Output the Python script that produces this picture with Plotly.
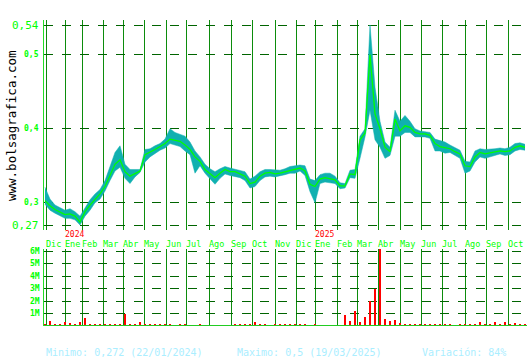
import plotly.graph_objects as go

# ---- data (x = trading session number) ----
sessions = list(range(0, 481, 5))
close = [0.303, 0.296, 0.291, 0.288, 0.284, 0.285, 0.282, 0.274, 0.288, 0.297,
         0.305, 0.312, 0.322, 0.338, 0.352, 0.358, 0.342, 0.336, 0.340, 0.343,
         0.365, 0.368, 0.372, 0.376, 0.380, 0.386, 0.385, 0.383, 0.378, 0.372,
         0.362, 0.356, 0.345, 0.340, 0.334, 0.340, 0.345, 0.342, 0.342, 0.339,
         0.336, 0.326, 0.328, 0.336, 0.340, 0.341, 0.339, 0.340, 0.342, 0.344,
         0.345, 0.347, 0.343, 0.325, 0.322, 0.332, 0.334, 0.333, 0.331, 0.323,
         0.323, 0.339, 0.338, 0.385, 0.394, 0.500, 0.420, 0.400, 0.375, 0.369,
         0.413, 0.397, 0.404, 0.402, 0.395, 0.393, 0.393, 0.391, 0.380, 0.376,
         0.374, 0.373, 0.369, 0.366, 0.350, 0.349, 0.362, 0.368, 0.366, 0.367,
         0.368, 0.370, 0.369, 0.370, 0.375, 0.377, 0.375]
high = [0.321, 0.305, 0.297, 0.294, 0.290, 0.292, 0.288, 0.282, 0.294, 0.304,
        0.312, 0.318, 0.330, 0.350, 0.368, 0.377, 0.352, 0.345, 0.345, 0.345,
        0.372, 0.373, 0.377, 0.380, 0.386, 0.400, 0.395, 0.392, 0.390, 0.382,
        0.370, 0.362, 0.352, 0.346, 0.342, 0.346, 0.349, 0.347, 0.345, 0.343,
        0.342, 0.332, 0.336, 0.342, 0.345, 0.345, 0.344, 0.344, 0.346, 0.349,
        0.350, 0.351, 0.350, 0.332, 0.330, 0.338, 0.340, 0.340, 0.336, 0.327,
        0.326, 0.344, 0.345, 0.390, 0.400, 0.540, 0.456, 0.410, 0.382, 0.375,
        0.425, 0.410, 0.418, 0.410, 0.400, 0.397, 0.396, 0.395, 0.386, 0.384,
        0.382, 0.378, 0.374, 0.371, 0.356, 0.355, 0.370, 0.373, 0.372, 0.372,
        0.373, 0.374, 0.373, 0.375, 0.380, 0.381, 0.379]
low = [0.298, 0.290, 0.286, 0.283, 0.279, 0.279, 0.277, 0.270, 0.282, 0.290,
       0.300, 0.305, 0.316, 0.330, 0.343, 0.348, 0.333, 0.326, 0.335, 0.341,
       0.355, 0.362, 0.367, 0.371, 0.374, 0.380, 0.378, 0.376, 0.370, 0.365,
       0.340, 0.350, 0.340, 0.333, 0.325, 0.333, 0.339, 0.337, 0.336, 0.334,
       0.330, 0.320, 0.322, 0.330, 0.335, 0.336, 0.335, 0.336, 0.338, 0.340,
       0.340, 0.343, 0.337, 0.315, 0.300, 0.326, 0.328, 0.327, 0.326, 0.319,
       0.320, 0.334, 0.333, 0.360, 0.389, 0.425, 0.385, 0.375, 0.360, 0.364,
       0.390, 0.390, 0.395, 0.395, 0.389, 0.389, 0.389, 0.387, 0.370, 0.370,
       0.367, 0.368, 0.364, 0.360, 0.340, 0.343, 0.355, 0.362, 0.360, 0.362,
       0.363, 0.366, 0.364, 0.365, 0.370, 0.372, 0.371]
volume_m = [0.15, 0.38, 0.12, 0.20, 0.30, 0.25, 0.15, 0.30, 0.62, 0.15,
            0.20, 0.10, 0.15, 0.20, 0.10, 0.20, 0.95, 0.15, 0.10, 0.35,
            0.10, 0.15, 0.12, 0.10, 0.10, 0.15, 0.08, 0.12, 0.10, 0.08,
            0.05, 0.10, 0.05, 0.06, 0.05, 0.04, 0.05, 0.08, 0.10, 0.15,
            0.12, 0.20, 0.30, 0.10, 0.12, 0.05, 0.10, 0.15, 0.10, 0.12,
            0.15, 0.10, 0.12, 0.08, 0.10, 0.05, 0.05, 0.08, 0.06, 0.05,
            0.87, 0.40, 1.20, 0.35, 0.73, 2.00, 3.00, 6.20, 0.60, 0.38,
            0.50, 0.25, 0.20, 0.20, 0.15, 0.10, 0.15, 0.10, 0.12, 0.15,
            0.10, 0.12, 0.08, 0.10, 0.12, 0.15, 0.10, 0.30, 0.15, 0.20,
            0.30, 0.15, 0.30, 0.20, 0.25, 0.20, 0.15]

month_labels = ["Dic", "Ene", "Feb", "Mar", "Abr", "May", "Jun", "Jul", "Ago", "Sep", "Oct",
                "Nov", "Dic", "Ene", "Feb", "Mar", "Abr", "May", "Jun", "Jul", "Ago", "Sep", "Oct"]
month_sessions = [1, 20, 37, 58, 78, 99, 121, 141, 164, 186, 207,
                  230, 251, 270, 292, 312, 333, 355, 376, 397, 420, 441, 463]
year_labels = ["2024", "2025"]
year_sessions = [20, 270]
price_ticks = [0.27, 0.3, 0.4, 0.5, 0.54]
price_tick_text = ["0,27", "0,3", "0,4", "0,5", "0,54"]
vol_ticks = [1, 2, 3, 4, 5, 6]
vol_tick_text = ["1M", "2M", "3M", "4M", "5M", "6M"]
footer = ["Minimo: 0,272 (22/01/2024)", "Maximo: 0,5 (19/03/2025)", "Variación: 84%"]

W, H = 530, 360
L, R = 44, 3
MONO = "DejaVu Sans Mono"
TEAL = "#10b0b0"
LIME = "#00ff00"

fig = go.Figure()
fig.add_trace(go.Scatter(x=sessions, y=low, mode="lines", line=dict(color=TEAL, width=0.5),
                         xaxis="x", yaxis="y", hoverinfo="skip"))
fig.add_trace(go.Scatter(x=sessions, y=high, mode="lines", line=dict(color=TEAL, width=0.5),
                         fill="tonexty", fillcolor=TEAL, xaxis="x", yaxis="y"))
fig.add_trace(go.Scatter(x=sessions, y=close, mode="lines", line=dict(color=LIME, width=1.3),
                         xaxis="x", yaxis="y"))
fig.add_trace(go.Bar(x=sessions, y=volume_m, marker=dict(color="#ff0000", line=dict(width=0)),
                     width=2.5, xaxis="x2", yaxis="y2"))

def ypos(px):
    return 1 - px / H

def xpaper(px):
    return (px - L) / (W - L - R)

xcommon = dict(range=[-1, 482], tickvals=month_sessions, showticklabels=False,
               showgrid=True, gridcolor="#0c8c0c", gridwidth=1, zeroline=False,
               ticks="", showline=False)
ycommon = dict(showticklabels=False, showgrid=True, gridcolor="#006400", griddash="dash",
               gridwidth=1.2, zeroline=False, showline=True, linecolor="#22dd22",
               linewidth=1.2, ticks="")
fig.update_layout(
    width=W, height=H, margin=dict(l=L, r=R, t=0, b=0),
    paper_bgcolor="white", plot_bgcolor="white", showlegend=False,
    bargap=0,
    xaxis=dict(domain=[0, 1], anchor="y", **xcommon),
    xaxis2=dict(domain=[0, 1], anchor="y2", matches="x", **xcommon),
    yaxis=dict(domain=[ypos(230), ypos(20)], range=[0.2633, 0.5468], tickvals=price_ticks,
               **ycommon),
    yaxis2=dict(domain=[ypos(326), ypos(249)], range=[0, 6.2], tickvals=vol_ticks,
                **ycommon),
)
# volume baseline
fig.add_shape(type="line", xref="paper", yref="y2", x0=0, x1=1, y0=0, y1=0,
              line=dict(color="#22cc22", width=2))

ann = []
for v, t in zip(price_ticks, price_tick_text):
    big = t in ("0,27", "0,54")
    ann.append(dict(x=0, xref="paper", y=v, yref="y", text=t if big else "<b>" + t + "</b>",
                    showarrow=False, xanchor="right", yanchor="middle", xshift=-3,
                    font=dict(family=MONO, size=11 if big else 8, color=LIME)))
for v, t in zip(vol_ticks, vol_tick_text):
    ann.append(dict(x=0, xref="paper", y=v, yref="y2", text="<b>" + t + "</b>",
                    showarrow=False, xanchor="right", yanchor="middle", xshift=-2,
                    font=dict(family=MONO, size=8, color=LIME)))
for s, t in zip(month_sessions, month_labels):
    ann.append(dict(x=s, xref="x", y=ypos(243.5), yref="paper", text=t, showarrow=False,
                    xanchor="left", yanchor="middle", xshift=-2,
                    font=dict(family=MONO, size=8.5, color=LIME)))
for s, t in zip(year_sessions, year_labels):
    ann.append(dict(x=s, xref="x", y=ypos(234), yref="paper", text=t, showarrow=False,
                    xanchor="left", yanchor="middle", xshift=-2,
                    font=dict(family=MONO, size=8, color="#ff0000")))
for xp, t in zip([44, 235, 420], footer):
    ann.append(dict(x=xpaper(xp), xref="paper", y=ypos(352), yref="paper", text=t,
                    showarrow=False, xanchor="left", yanchor="middle",
                    font=dict(family=MONO, size=10, color="#aaeeff")))
ann.append(dict(x=xpaper(12), xref="paper", y=ypos(126), yref="paper",
                text="www.bolsagrafica.com",
                showarrow=False, textangle=-90, xanchor="center", yanchor="middle",
                font=dict(family=MONO, size=12.5, color="#000000")))
fig.update_layout(annotations=ann)

fig.write_html("out.html")
